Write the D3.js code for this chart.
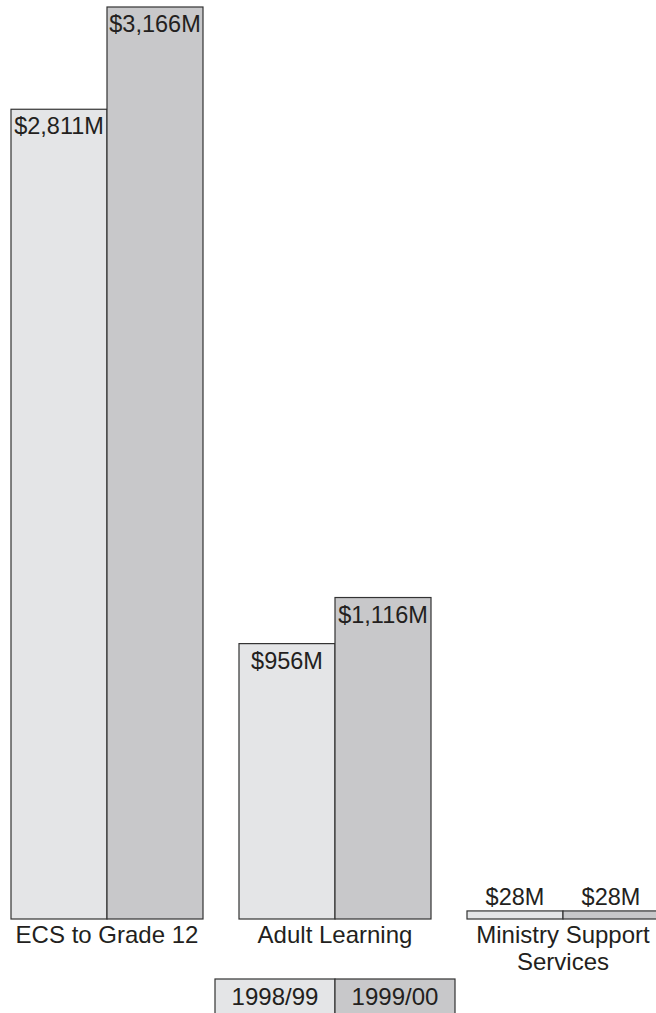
<!DOCTYPE html>
<html>
<head>
<meta charset="utf-8">
<script src="https://cdn.jsdelivr.net/npm/d3@7"></script>
<style>
  html, body { margin: 0; padding: 0; background: #fff; }
  svg { display: block; }
</style>
</head>
<body>
<div id="viz"></div>
<script>
// Program expenses by category, in $ millions.
const CATEGORIES = [["ECS to Grade 12"], ["Adult Learning"], ["Ministry Support", "Services"]];
const SERIES = ["1998/99", "1999/00"];
const VALUES_9899 = [2811, 956, 28];
const VALUES_9900 = [3166, 1116, 28];

const W = 656, H = 1013;
const baseY = 919, topY = 7;
const FILLS = ["#e4e5e7", "#c8c8ca"];
const INK = "#231f20";
const FONT = "'Liberation Sans', Arial, Helvetica, sans-serif";

const svg = d3.select("#viz").append("svg")
  .attr("width", W)
  .attr("height", H)
  .style("font-family", FONT);

const rows = CATEGORIES.map((c, i) => ({
  key: c.join(" "),
  lines: c,
  values: [VALUES_9899[i], VALUES_9900[i]]
}));

const x = d3.scaleBand()
  .domain(rows.map(d => d.key))
  .range([11, 659])
  .paddingInner(36 / 228)
  .paddingOuter(0);

const xs = d3.scaleBand()
  .domain(SERIES)
  .range([0, x.bandwidth()]);

const y = d3.scaleLinear()
  .domain([0, d3.max(VALUES_9900)])
  .range([baseY, topY]);

const bars = rows.flatMap(r => r.values.map((v, j) => ({
  cat: r.key, series: SERIES[j], j, value: v
})));

const g = svg.append("g");

g.selectAll("rect")
  .data(bars)
  .join("rect")
  .attr("x", d => x(d.cat) + xs(d.series))
  .attr("y", d => y(d.value))
  .attr("width", xs.bandwidth())
  .attr("height", d => baseY - y(d.value))
  .attr("fill", d => FILLS[d.j])
  .attr("stroke", "#333")
  .attr("stroke-width", 1.2);

// Value labels: inside the bar top when there is room, otherwise above.
g.selectAll("text.val")
  .data(bars)
  .join("text")
  .attr("class", "val")
  .attr("x", d => x(d.cat) + xs(d.series) + xs.bandwidth() / 2)
  .attr("y", d => (baseY - y(d.value) > 40 ? y(d.value) + 25 : y(d.value) - 6))
  .attr("text-anchor", "middle")
  .attr("fill", INK)
  .style("font-size", "23.5px")
  .text(d => `$${d3.format(",")(d.value)}M`);

// Category labels
const cat = svg.append("g").selectAll("text")
  .data(rows)
  .join("text")
  .attr("x", d => x(d.key) + x.bandwidth() / 2)
  .attr("y", 943)
  .attr("text-anchor", "middle")
  .attr("fill", INK)
  .style("font-size", "24px");

cat.selectAll("tspan")
  .data(d => d.lines)
  .join("tspan")
  .attr("x", function () { return d3.select(this.parentNode).attr("x"); })
  .attr("dy", (d, i) => (i === 0 ? 0 : 27))
  .text(d => d);

// Legend
const lx = (x.range()[0] + x.range()[1]) / 2 - 120;
const leg = svg.append("g").attr("transform", `translate(${lx},979)`);
leg.selectAll("rect")
  .data(SERIES)
  .join("rect")
  .attr("x", (d, i) => i * 120)
  .attr("y", 0)
  .attr("width", 120)
  .attr("height", 45)
  .attr("fill", (d, i) => FILLS[i])
  .attr("stroke", "#333")
  .attr("stroke-width", 1.2);
leg.selectAll("text")
  .data(SERIES)
  .join("text")
  .attr("x", (d, i) => i * 120 + 60)
  .attr("y", 26)
  .attr("text-anchor", "middle")
  .attr("fill", INK)
  .style("font-size", "24px")
  .text(d => d);
</script>
</body>
</html>
